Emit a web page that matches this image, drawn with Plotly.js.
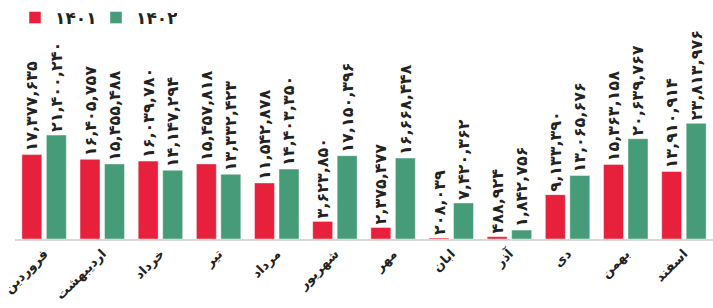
<!DOCTYPE html>
<html><head><meta charset="utf-8">
<script src="https://cdn.plot.ly/plotly-3.0.1.min.js"></script>
<style>html,body{margin:0;padding:0;background:#fff}#chart{width:713px;height:308px}</style>
</head><body><div id="chart"></div>
<script>
const months = ['فروردین','اردیبهشت','خرداد','تیر','مرداد','شهریور','مهر','ابان','آذر','دی','بهمن','اسفند'];
const values1401 = [17377635,16405757,16039780,15457818,11542878,3623850,2375477,208039,488924,9133390,15363158,13910914];
const values1402 = [21400240,15455488,14147294,13332423,14403350,17150396,16668448,7420362,1842756,13065676,20639767,23813976];
const seriesNames = ['۱۴۰۱','۱۴۰۲'];

const faDigits = '۰۱۲۳۴۵۶۷۸۹';
function toFa(n){
  return n.toLocaleString('en-US').replace(/[0-9]/g, d => faDigits[+d]);
}
const font = 'DejaVu Sans, sans-serif';
function trace(vals, name, color){
  return {
    type:'bar', x: months, y: vals, name: name,
    text: vals.map(toFa), textposition:'outside', textangle:-90,
    textfont:{family:font, size:16, color:'#222', weight:'bold'},
    constraintext:'none', cliponaxis:false,
    marker:{color:color, line:{color:'rgba(255,255,255,0.45)', width:1}},
    hoverinfo:'none'
  };
}
const data = [trace(values1401, seriesNames[0], '#e7213b'), trace(values1402, seriesNames[1], '#469b79')];
const layout = {
  width:713, height:308,
  margin:{l:15, r:0, t:69, b:69},
  paper_bgcolor:'#fff', plot_bgcolor:'#fff',
  barmode:'group', bargap:0.158, bargroupgap:0.184,
  showlegend:true,
  legend:{orientation:'h', x:0, xanchor:'left', y:1.41, yanchor:'top', font:{family:font, size:17, color:'#222', weight:'bold'},
          itemwidth:30, traceorder:'normal', entrywidth:36, entrywidthmode:'pixels'},
  xaxis:{type:'category', range:[-0.5, 11.5], showline:true, linecolor:'#d8d8d8', linewidth:2, ticks:'', tickangle:-45,
         tickfont:{family:font, size:13, color:'#222', weight:'bold'}, showgrid:false, zeroline:false, fixedrange:true},
  yaxis:{range:[0, 35e6], visible:false, showgrid:false, zeroline:false, fixedrange:true}
};
Plotly.newPlot('chart', data, layout, {displayModeBar:false, staticPlot:true});
</script></body></html>
